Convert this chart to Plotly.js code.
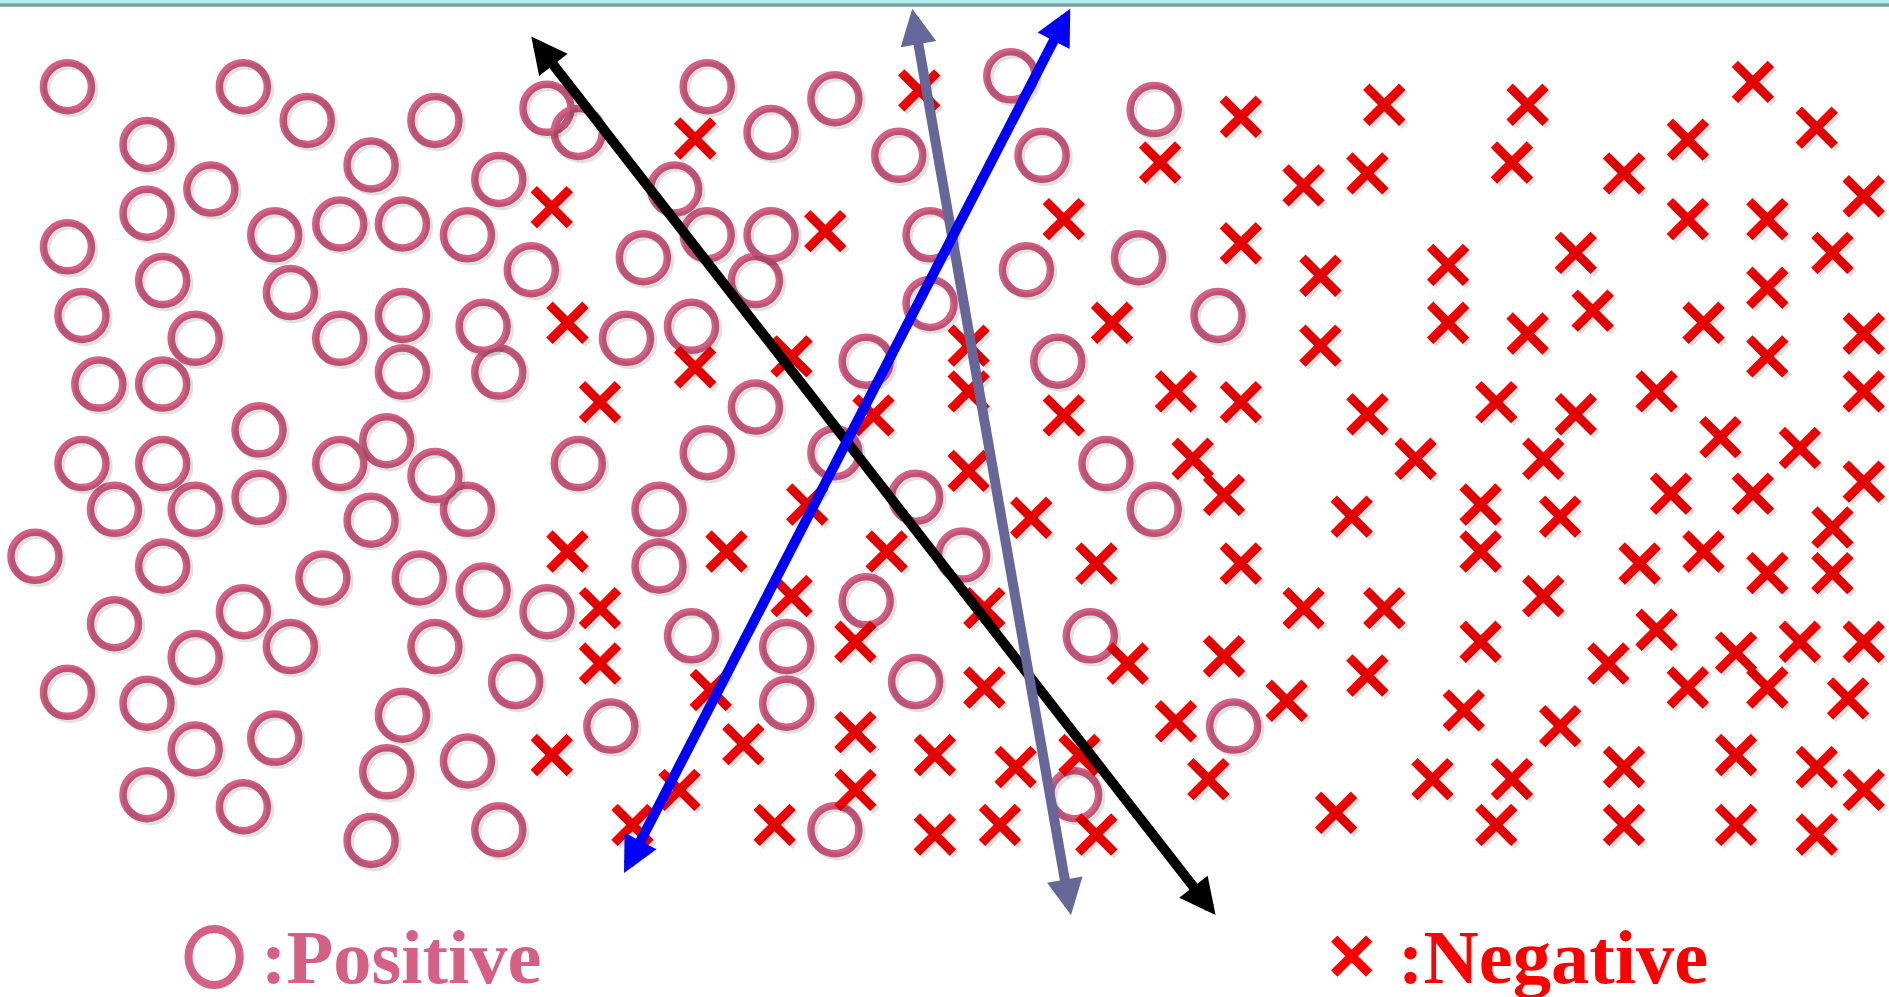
<!DOCTYPE html>
<html>
<head>
<meta charset="utf-8">
<script src="https://cdn.plot.ly/plotly-3.0.1.min.js"></script>
<style>
  html, body { margin: 0; padding: 0; background: #ffffff; }
  #chart { width: 1889px; height: 997px; }
</style>
</head>
<body>
<div id="chart"></div>
<script>
// Positive samples (feature 1, feature 2)
const posX = [56,202,255,361,122,308,414,175,122,56,228,282,334,388,441,135,241,68,162,282,334,401,82,135,334,414,215,68,135,282,321,361,95,162,215,308,388,29,135,268,348,401,95,202,162,241,361,454,56,122,428,334,162,228,321,388,122,202,308,414,
  454,480,587,640,693,746,839,865,958,560,534,587,640,627,772,852,945,772,520,574,719,878,1011,627,587,693,480,918,760,547,958,547,799,719,574,653,905,653,760,507,1024,892,693];
const posY = [72,72,100,100,120,137,149,157,177,205,195,186,186,195,224,233,243,262,281,281,262,271,319,319,309,309,357,385,385,385,366,395,423,423,413,432,423,462,470,480,480,490,518,508,546,537,537,508,575,584,566,594,622,613,641,632,660,670,698,689,
  90,110,72,110,82,129,63,129,91,157,214,195,195,233,195,224,214,252,281,271,300,300,262,338,376,376,385,385,413,423,423,470,461,499,528,537,528,584,566,603,603,660,689];

// Negative samples (feature 1, feature 2)
const negX = [458,577,685,763,471,577,498,657,725,804,804,883,883,963,923,976,1030,1030,1030,990,1016,804,670,856,603,736,471,910,1030,657,498,817,498,710,590,817,936,1016,458,617,710,776,843,896,976,1068,564,710,643,776,830,910,1003,525,
  1149,1268,1455,1508,1401,1082,1135,1255,1348,1547,1401,1467,1521,1096,1202,1308,1467,1322,1202,1268,1414,1547,1096,1467,1547,1375,1135,1242,1308,1175,1281,1428,1494,1387,1455,1547,1122,1229,1295,1521,1229,1361,1414,1467,1521,1082,1149,1281,1229,1375,1135,1335,1441,1494,1547,1401,1467,1215,1295,1534,1189,1255,1348,1441,1508,1547,1109,1242,1348,1441,1508];
const negY = [172,115,192,75,268,305,334,296,345,287,325,182,345,135,268,325,97,202,334,381,411,391,419,430,458,458,458,468,468,495,505,505,551,533,573,571,551,545,627,618,608,627,637,627,599,582,656,656,685,693,685,693,647,685,
  87,87,68,106,116,154,144,135,144,163,182,182,210,229,220,210,239,258,268,277,268,277,287,296,325,325,344,334,344,381,381,363,372,410,410,400,429,419,429,438,458,468,458,476,476,505,505,495,533,523,561,551,542,533,533,571,571,590,603,580,647,647,637,627,637,656,675,685,685,685,693];

// Candidate separating directions: tail and head of each double arrow
const sepNames  = ['black', 'slate', 'blue'];
const sepStartX = [440, 757, 889];
const sepStartY = [29, 6, 6];
const sepEndX   = [1009, 889, 518];
const sepEndY   = [760, 760, 725];

// Legend labels
const legendLabels = [':Positive', ':Negative'];

const W = 1889, H = 997;
const XR = [0, 1568], YR = [828, 0];
const unit = XR[1] / W;           // axis units per screen pixel
const sh = 3 * unit;              // drop-shadow offset

const PINK = '#D65F86';
const RED = '#FF0000';
const SEP_COLORS = { black: '#000000', slate: '#666699', blue: '#0000FF' };

const circleMarker = { symbol: 'circle-open', size: 48, line: { width: 7.5 } };
const crossMarker  = { symbol: 'x-thin-open', size: 36, line: { width: 9 } };

const traces = [
  // soft shadows on an offset overlay axis
  { x: posX, y: posY, xaxis: 'x2', yaxis: 'y2', mode: 'markers', hoverinfo: 'skip',
    marker: Object.assign({}, circleMarker, { color: 'rgba(0,0,0,0.12)' }) },
  { x: negX, y: negY, xaxis: 'x2', yaxis: 'y2', mode: 'markers', hoverinfo: 'skip',
    marker: Object.assign({}, crossMarker, { color: 'rgba(0,0,0,0.12)' }) },
  { x: posX, y: posY, mode: 'markers', name: 'Positive',
    marker: Object.assign({}, circleMarker, { color: PINK }) },
  { x: negX, y: negY, mode: 'markers', name: 'Negative',
    marker: Object.assign({}, crossMarker, { color: RED }) }
];

const annotations = sepNames.map((n, i) => ({
  xref: 'x', yref: 'y', axref: 'x', ayref: 'y',
  x: sepEndX[i], y: sepEndY[i], ax: sepStartX[i], ay: sepStartY[i],
  text: '', showarrow: true, arrowside: 'end+start',
  arrowhead: 2, startarrowhead: 2, arrowsize: 0.72, startarrowsize: 0.72,
  arrowwidth: 10, arrowcolor: SEP_COLORS[n], standoff: 0, startstandoff: 0
}));

const legendFont = { family: 'Liberation Serif, Times New Roman, serif', size: 76.5, weight: 'bold' };
annotations.push(
  { xref: 'x', yref: 'y', x: 215, y: 795, xanchor: 'left', yanchor: 'middle', showarrow: false,
    text: '<b>' + legendLabels[0] + '</b>', font: Object.assign({}, legendFont, { color: PINK }) },
  { xref: 'x', yref: 'y', x: 1159, y: 795, xanchor: 'left', yanchor: 'middle', showarrow: false,
    text: '<b>' + legendLabels[1] + '</b>', font: Object.assign({}, legendFont, { color: RED }) }
);

const shapes = [
  // top rule
  { type: 'rect', xref: 'paper', yref: 'paper', x0: 0, x1: 1, y0: 1 - 3.3 / H, y1: 1,
    line: { width: 0 }, fillcolor: '#B2EEF0' },
  { type: 'rect', xref: 'paper', yref: 'paper', x0: 0, x1: 1, y0: 1 - 6.7 / H, y1: 1 - 3.3 / H,
    line: { width: 0 }, fillcolor: '#7A9E9E' },
  // legend keys
  { type: 'circle', xref: 'x', yref: 'y', x0: 156.5, x1: 199, y0: 771.5, y1: 818,
    line: { color: PINK, width: 8 } },
  { type: 'path', xref: 'x', yref: 'y',
    path: 'M1107.5,779.5 L1136.5,808.5 M1136.5,779.5 L1107.5,808.5', line: { color: RED, width: 9 } }
];

const hidden = { visible: false, showgrid: false, zeroline: false, fixedrange: true };

const layout = {
  width: W, height: H,
  margin: { l: 0, r: 0, t: 0, b: 0 },
  paper_bgcolor: '#ffffff', plot_bgcolor: '#ffffff',
  showlegend: false,
  xaxis: Object.assign({ range: XR }, hidden),
  yaxis: Object.assign({ range: YR }, hidden),
  xaxis2: Object.assign({ range: [XR[0] - sh, XR[1] - sh], overlaying: 'x' }, hidden),
  yaxis2: Object.assign({ range: [YR[0] - sh, YR[1] - sh], overlaying: 'y' }, hidden),
  annotations: annotations,
  shapes: shapes
};

Plotly.newPlot('chart', traces, layout, { displayModeBar: false, staticPlot: true });
</script>
</body>
</html>
